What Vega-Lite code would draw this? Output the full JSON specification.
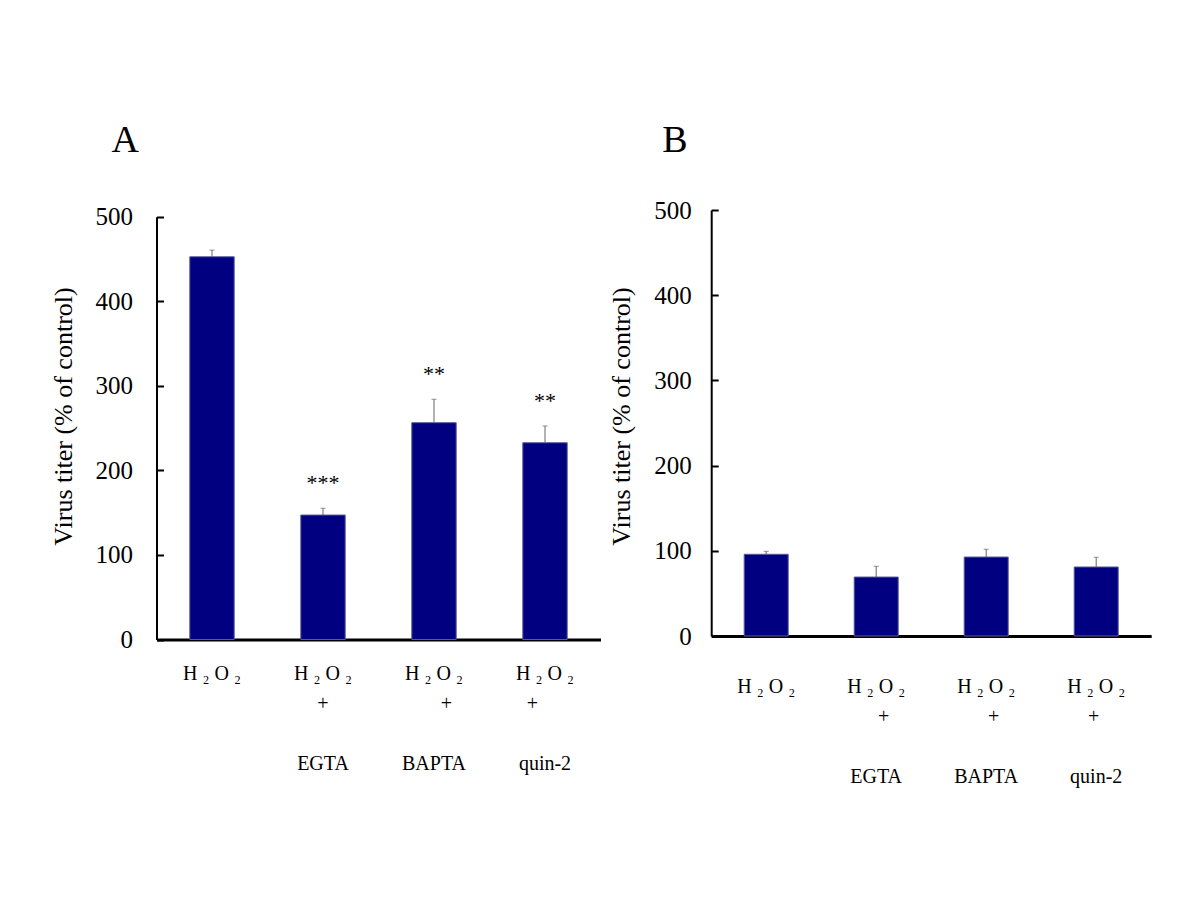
{
  "$schema": "https://vega.github.io/schema/vega-lite/v6.json",
  "background": "white",
  "padding": {"left": 50.5, "top": 121, "right": 5, "bottom": 5},
  "bounds": "flush",
  "spacing": 110.7,
  "config": {
    "view": {"stroke": null},
    "font": "Liberation Serif",
    "axis": {"grid": false, "labelFont": "Liberation Serif", "titleFont": "Liberation Serif", "labelColor": "black", "titleColor": "black", "domainColor": "black", "tickColor": "black"},
    "title": {"font": "Liberation Serif", "fontWeight": "normal", "fontSize": 38, "color": "black"}
  },
  "hconcat": [
    {
      "width": 444,
      "height": 429.5,
      "title": {"text": "A", "anchor": "start", "frame": "group", "dx": -45, "baseline": "alphabetic", "offset": 15},
      "data": {"values": [
        {"cond": "H2O2", "mean": 452.6, "hi": 460.5, "sig": ""},
        {"cond": "EGTA", "mean": 147.2, "hi": 155.2, "sig": "***"},
        {"cond": "BAPTA", "mean": 256.4, "hi": 284.1, "sig": "**"},
        {"cond": "quin-2", "mean": 232.7, "hi": 252.5, "sig": "**"}
      ]},
      "encoding": {
        "x": {"field": "cond", "type": "nominal", "sort": null,
          "scale": {"paddingInner": 0.6, "paddingOuter": 0.3},
          "axis": {"title": null, "ticks": false, "domainWidth": 3, "labelAngle": 0, "labelFontSize": 20, "labelLineHeight": 30, "labelBaseline": "top", "labelPadding": 24,
            "labelExpr": "datum.value == 'H2O2' ? 'H ₂ O ₂' : datum.value == 'EGTA' ? ['H ₂ O ₂', '+', '\u200b', 'EGTA'] : datum.value == 'BAPTA' ? ['H ₂ O ₂', '\u200b\u00a0\u00a0\u00a0\u00a0\u00a0+', '\u200b', 'BAPTA'] : ['H ₂ O ₂', '+\u00a0\u00a0\u00a0\u00a0\u00a0\u200b', '\u200b', 'quin-2']"}
        }
      },
      "layer": [
        {
          "mark": {"type": "bar", "color": "#000080", "stroke": "#5b5b9b", "strokeWidth": 1},
          "encoding": {
            "y": {"field": "mean", "type": "quantitative",
              "scale": {"domain": [0, 500], "nice": false, "rangeMax": 6.7},
              "axis": {"values": [0, 100, 200, 300, 400, 500], "tickSize": -7, "tickWidth": 2, "domainWidth": 2, "labelFontSize": 25, "labelPadding": 31, "labelBaseline": "middle",
                "title": "Virus titer (% of control)", "titleFontSize": 26, "titleFontWeight": "normal", "titleX": -93, "titleY": 206, "titleAlign": "center", "titleBaseline": "middle", "titleAngle": -90}}
          }
        },
        {
          "mark": {"type": "rule", "color": "#666666", "strokeWidth": 1},
          "encoding": {"y": {"field": "mean", "type": "quantitative"}, "y2": {"field": "hi"}}
        },
        {
          "mark": {"type": "tick", "color": "#666666", "thickness": 1, "size": 5},
          "encoding": {"y": {"field": "hi", "type": "quantitative"}}
        },
        {
          "mark": {"type": "text", "fontSize": 22, "font": "Liberation Serif", "color": "black", "baseline": "alphabetic", "dy": -18},
          "encoding": {"y": {"field": "hi", "type": "quantitative"}, "text": {"field": "sig"}}
        }
      ]
    },
    {
      "width": 440,
      "height": 426,
      "title": {"text": "B", "anchor": "start", "frame": "group", "dx": -49, "baseline": "alphabetic", "offset": 8},
      "data": {"values": [
        {"cond": "H2O2", "mean": 95.9, "hi": 99.4},
        {"cond": "EGTA", "mean": 69.2, "hi": 81.8},
        {"cond": "BAPTA", "mean": 92.7, "hi": 101.8},
        {"cond": "quin-2", "mean": 81, "hi": 92.4}
      ]},
      "encoding": {
        "x": {"field": "cond", "type": "nominal", "sort": null,
          "scale": {"paddingInner": 0.6, "paddingOuter": 0.3},
          "axis": {"title": null, "ticks": false, "domainWidth": 3, "labelAngle": 0, "labelFontSize": 20, "labelLineHeight": 30, "labelBaseline": "top", "labelPadding": 40,
            "labelExpr": "datum.value == 'H2O2' ? 'H ₂ O ₂' : datum.value == 'EGTA' ? ['H ₂ O ₂', '\u200b\u00a0\u00a0\u00a0+', '\u200b', 'EGTA'] : datum.value == 'BAPTA' ? ['H ₂ O ₂', '\u200b\u00a0\u00a0\u00a0+', '\u200b', 'BAPTA'] : ['H ₂ O ₂', '+\u00a0\u200b', '\u200b', 'quin-2']"}
        }
      },
      "layer": [
        {
          "mark": {"type": "bar", "color": "#000080", "stroke": "#5b5b9b", "strokeWidth": 1},
          "encoding": {
            "y": {"field": "mean", "type": "quantitative",
              "scale": {"domain": [0, 500], "nice": false},
              "axis": {"values": [0, 100, 200, 300, 400, 500], "tickSize": -7, "tickWidth": 2, "domainWidth": 2, "labelFontSize": 25, "labelPadding": 27, "labelBaseline": "middle",
                "title": "Virus titer (% of control)", "titleFontSize": 26, "titleFontWeight": "normal", "titleX": -90, "titleY": 206, "titleAlign": "center", "titleBaseline": "middle", "titleAngle": -90}}
          }
        },
        {
          "mark": {"type": "rule", "color": "#666666", "strokeWidth": 1},
          "encoding": {"y": {"field": "mean", "type": "quantitative"}, "y2": {"field": "hi"}}
        },
        {
          "mark": {"type": "tick", "color": "#666666", "thickness": 1, "size": 5},
          "encoding": {"y": {"field": "hi", "type": "quantitative"}}
        }
      ]
    }
  ]
}
